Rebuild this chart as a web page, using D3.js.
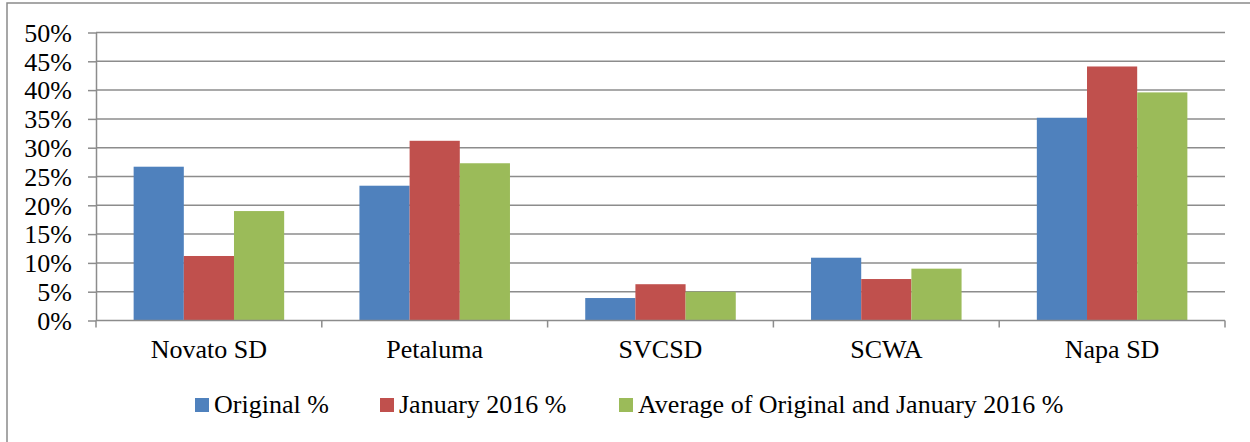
<!DOCTYPE html>
<html>
<head>
<meta charset="utf-8">
<script src="https://cdn.jsdelivr.net/npm/d3@7"></script>
<style>
  html, body { margin: 0; padding: 0; background: #fff; }
  svg { display: block; }
  text { font-family: "Liberation Serif", "Times New Roman", serif; fill: #000; }
</style>
</head>
<body>
<svg id="chart" width="1250" height="442"></svg>
<script>
const categories = ["Novato SD", "Petaluma", "SVCSD", "SCWA", "Napa SD"];
const seriesNames = ["Original %", "January 2016 %", "Average of Original and January 2016 %"];
const original = [0.267, 0.234, 0.039, 0.109, 0.352];
const january2016 = [0.112, 0.312, 0.063, 0.072, 0.441];
const average = [0.190, 0.273, 0.050, 0.090, 0.396];
const yTicks = [0, 0.05, 0.10, 0.15, 0.20, 0.25, 0.30, 0.35, 0.40, 0.45, 0.50];
const colors = ["#4F81BD", "#C0504D", "#9BBB59"];

const seriesValues = [original, january2016, average];
const svg = d3.select("#chart");

// outer chart border
svg.append("rect")
  .attr("x", 7).attr("y", 3)
  .attr("width", 1260).attr("height", 460)
  .attr("fill", "none").attr("stroke", "#8a8a8a").attr("stroke-width", 1.5);

const plotLeft = 96, plotRight = 1225, plotTop = 32.5, plotBottom = 320.5;

const x0 = d3.scaleBand().domain(categories).range([plotLeft, plotRight]).paddingInner(0).paddingOuter(0);
const barW = x0.bandwidth() / 4.5;
const x1 = d3.scaleBand().domain(seriesNames).range([barW * 0.75, barW * 3.75]);
const y = d3.scaleLinear().domain([0, 0.5]).range([plotBottom, plotTop]);

// gridlines
svg.append("g")
  .selectAll("line")
  .data(yTicks.filter(d => d > 0))
  .join("line")
  .attr("x1", plotLeft).attr("x2", plotRight)
  .attr("y1", d => y(d)).attr("y2", d => y(d))
  .attr("stroke", "#8c8c8c").attr("stroke-width", 1.5);

// bars
const groups = svg.append("g")
  .selectAll("g")
  .data(categories)
  .join("g")
  .attr("transform", d => `translate(${x0(d)},0)`);

groups.selectAll("rect")
  .data((c, i) => seriesNames.map((s, j) => ({ s, j, v: seriesValues[j][i] })))
  .join("rect")
  .attr("x", d => x1(d.s))
  .attr("width", x1.bandwidth())
  .attr("y", d => y(d.v))
  .attr("height", d => y(0) - y(d.v))
  .attr("fill", d => colors[d.j]);

// y axis
const yAxis = d3.axisLeft(y)
  .tickValues(yTicks)
  .tickFormat(d3.format(".0%"))
  .tickSizeInner(8).tickSizeOuter(0).tickPadding(16);
const gy = svg.append("g").attr("transform", `translate(${plotLeft},0)`).call(yAxis);
gy.select(".domain").attr("stroke", "#8c8c8c").attr("stroke-width", 1.5);
gy.selectAll(".tick line").attr("stroke", "#8c8c8c").attr("stroke-width", 1.5);
gy.selectAll(".tick text").attr("font-size", 26).attr("font-family", "Liberation Serif").attr("dy", "0.34em");

// x axis
const boundaries = categories.map(c => x0(c)).concat([plotRight]);
svg.append("line")
  .attr("x1", plotLeft).attr("x2", plotRight)
  .attr("y1", plotBottom).attr("y2", plotBottom)
  .attr("stroke", "#8c8c8c").attr("stroke-width", 1.5);
svg.append("g").selectAll("line")
  .data(boundaries)
  .join("line")
  .attr("x1", d => d).attr("x2", d => d)
  .attr("y1", plotBottom).attr("y2", plotBottom + 7)
  .attr("stroke", "#8c8c8c").attr("stroke-width", 1.5);

svg.append("g").selectAll("text")
  .data(categories)
  .join("text")
  .attr("x", d => x0(d) + x0.bandwidth() / 2)
  .attr("y", 358)
  .attr("text-anchor", "middle")
  .attr("font-size", 26)
  .text(d => d);

// legend
const legendX = [195, 380, 619];
const lg = svg.append("g").selectAll("g")
  .data(seriesNames)
  .join("g")
  .attr("transform", (d, i) => `translate(${legendX[i]},0)`);
lg.append("rect")
  .attr("x", 0).attr("y", 398)
  .attr("width", 14).attr("height", 14)
  .attr("fill", (d, i) => colors[i]);
lg.append("text")
  .attr("x", 19).attr("y", 413)
  .attr("font-size", 26)
  .text(d => d);
</script>
</body>
</html>
